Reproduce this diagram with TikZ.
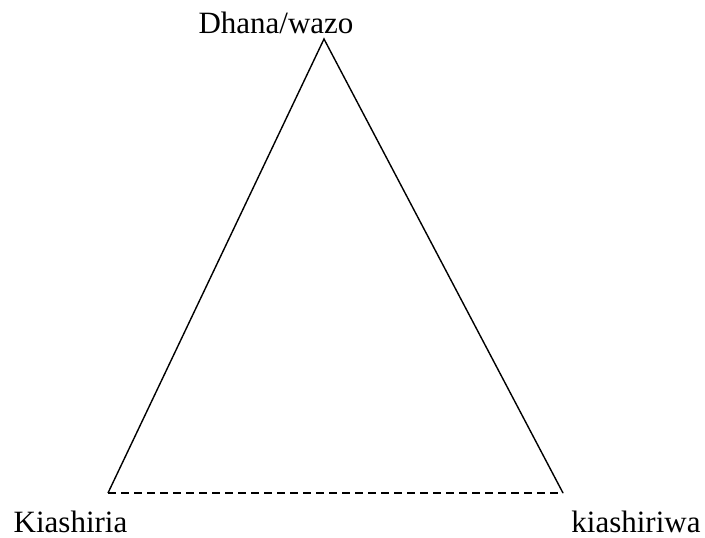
\documentclass[tikz,border=0pt]{standalone}
\usepackage{fontspec}
\setmainfont{Liberation Serif}
\begin{document}
\begin{tikzpicture}[x=1pt,y=-1pt,
  lbl/.style={anchor=base,inner sep=0pt,font=\fontsize{31}{36}\selectfont},
  edge/.style={line width=1.4pt},
  dashedge/.style={line width=1.4pt,dash pattern=on 8pt off 5pt}]
\useasboundingbox (0,0) rectangle (705,538);
\coordinate (A) at (324,39);
\coordinate (B) at (108,493);
\coordinate (C) at (563,493);
\draw[edge,line join=miter] (B) -- (A) -- (C);
\draw[dashedge] (B) -- (C);
\node[lbl] (ta) at (276,33) {Dhana/wazo};
\node[lbl] (tb) at (70.5,532.5) {Kiashiria};
\node[lbl] (tc) at (636,532.5) {kiashiriwa};
\end{tikzpicture}
\end{document}
